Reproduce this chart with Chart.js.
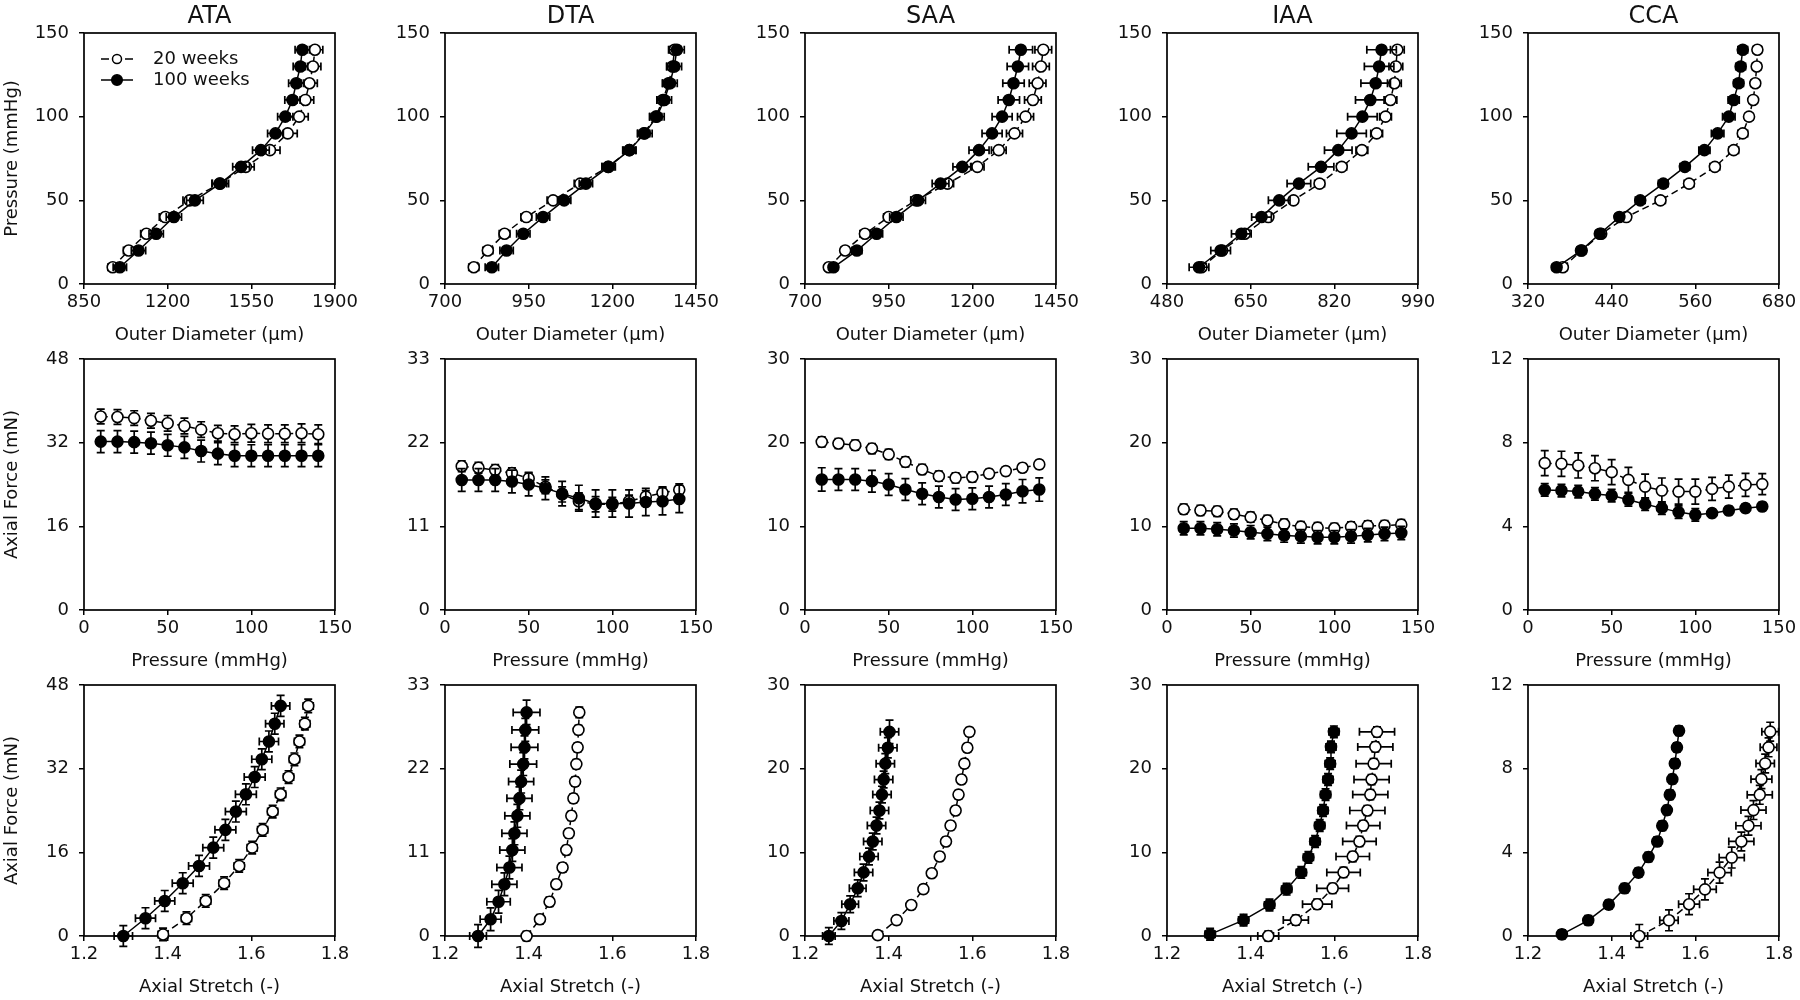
<!DOCTYPE html>
<html>
<head>
<meta charset="utf-8">
<script src="https://cdn.jsdelivr.net/npm/chart.js@4.4.0/dist/chart.umd.min.js"></script>
<style>
html,body{margin:0;padding:0;background:#fff;}
#fig{position:relative;width:1800px;height:1000px;overflow:hidden;background:#fff;}
#fig canvas{position:absolute;}
</style>
</head>
<body>
<div id="fig"></div>
<script>
// ---------------- DATA ----------------
const vessels = ['ATA', 'DTA', 'SAA', 'IAA', 'CCA'];
const groupLabels = ['20 weeks', '100 weeks'];
const pressure = [10,20,30,40,50,60,70,80,90,100,110,120,130,140];

// tick labels
const ataOdTicks = [850,1200,1550,1900];
const dtaOdTicks = [700,950,1200,1450];
const saaOdTicks = [700,950,1200,1450];
const iaaOdTicks = [480,650,820,990];
const ccaOdTicks = [320,440,560,680];
const pressureTicks = [0,50,100,150];
const ataForceTicks = [0,16,32,48];
const dtaForceTicks = [0,11,22,33];
const saaForceTicks = [0,10,20,30];
const iaaForceTicks = [0,10,20,30];
const ccaForceTicks = [0,4,8,12];
const stretchTicks = [1.2,1.4,1.6,1.8];
const stretchTickLabels = ['1.2','1.4','1.6','1.8'];

// Row 1: outer diameter (um) at each pressure
const ataOd20 = [970,1037,1111,1190,1292,1417,1527,1628,1702,1750,1776,1793,1808,1816];
const ataOd20Err = [20,22,24,25,28,30,35,42,40,38,35,33,33,33];
const ataOd100 = [1000,1078,1152,1226,1314,1420,1507,1590,1651,1692,1722,1738,1755,1763];
const ataOd100Err = [28,30,30,32,35,35,35,35,33,32,32,32,30,30];
const dtaOd20 = [786,828,878,943,1023,1104,1187,1251,1294,1330,1351,1368,1380,1386];
const dtaOd20Err = [15,15,16,16,18,18,18,18,18,18,18,18,18,18];
const dtaOd100 = [840,884,934,993,1056,1121,1189,1251,1297,1333,1355,1372,1385,1393];
const dtaOd100Err = [20,20,20,20,20,20,20,20,22,22,22,22,22,22];
const saaOd20 = [771,820,879,950,1032,1126,1215,1279,1326,1359,1381,1395,1405,1412];
const saaOd20Err = [10,12,15,15,15,18,20,22,24,24,25,25,25,25];
const saaOd100 = [785,855,914,973,1038,1105,1170,1220,1259,1289,1309,1323,1336,1345];
const saaOd100Err = [12,15,18,20,22,25,28,30,30,30,32,32,32,35];
const iaaOd20 = [550,592,638,686,737,790,835,876,906,924,934,942,945,948];
const iaaOd20Err = [8,8,8,8,8,10,10,12,12,12,13,14,14,14];
const iaaOd100 = [545,589,631,672,708,748,793,828,855,877,893,904,911,916];
const iaaOd100Err = [20,20,20,20,22,24,26,28,30,30,30,30,30,30];
const ccaOd20 = [370,397,425,461,510,551,588,615,628,637,643,646,648,649];
const ccaOd20Err = [6,6,6,6,7,7,7,7,7,6,6,6,6,6];
const ccaOd100 = [361,396,423,451,481,514,545,573,592,608,615,622,625,628];
const ccaOd100Err = [6,6,6,6,7,7,7,8,9,9,8,7,7,7];

// Row 2: axial force (mN) at each pressure
const ataF20 = [37.0,36.9,36.7,36.2,35.7,35.2,34.5,33.8,33.6,33.8,33.7,33.7,33.8,33.6];
const ataF20Err = [1.4,1.4,1.4,1.4,1.5,1.5,1.5,1.5,1.6,1.7,1.7,1.7,1.8,1.8];
const ataF100 = [32.2,32.2,32.1,31.9,31.5,31.1,30.4,29.9,29.5,29.5,29.5,29.5,29.5,29.5];
const ataF100Err = [2.1,2.1,2.1,2.1,2.1,2.1,2.1,2.1,2.1,2.1,2.1,2.1,2.1,2.1];
const dtaF20 = [18.9,18.7,18.4,18.0,17.3,16.2,15.2,14.3,13.9,13.9,14.3,14.9,15.4,15.8];
const dtaF20Err = [0.7,0.7,0.7,0.7,0.8,0.9,1.0,1.1,1.0,0.9,0.8,0.8,0.8,0.8];
const dtaF100 = [17.1,17.1,17.1,16.9,16.5,16.0,15.3,14.7,14.0,14.0,14.0,14.2,14.3,14.6];
const dtaF100Err = [1.5,1.5,1.5,1.5,1.5,1.5,1.6,1.7,1.8,1.8,1.8,1.8,1.8,1.8];
const saaF20 = [20.1,19.9,19.7,19.3,18.6,17.7,16.8,16.0,15.8,15.9,16.3,16.6,17.0,17.4];
const saaF20Err = [0.6,0.6,0.6,0.6,0.6,0.6,0.6,0.6,0.6,0.6,0.5,0.5,0.5,0.5];
const saaF100 = [15.6,15.6,15.6,15.4,15.0,14.4,13.9,13.5,13.2,13.3,13.5,13.8,14.2,14.4];
const saaF100Err = [1.4,1.3,1.3,1.3,1.3,1.3,1.3,1.3,1.3,1.3,1.3,1.3,1.4,1.4];
const iaaF20 = [12.05,11.9,11.8,11.45,11.1,10.7,10.25,9.97,9.85,9.77,9.93,10.05,10.1,10.2];
const iaaF20Err = [0.6,0.6,0.6,0.6,0.6,0.6,0.6,0.6,0.6,0.6,0.6,0.6,0.6,0.6];
const iaaF100 = [9.77,9.77,9.65,9.5,9.3,9.1,8.9,8.8,8.7,8.7,8.8,8.95,9.1,9.2];
const iaaF100Err = [0.8,0.8,0.8,0.8,0.8,0.8,0.8,0.8,0.8,0.8,0.8,0.8,0.8,0.8];
const ccaF20 = [7.02,6.99,6.91,6.78,6.59,6.22,5.9,5.71,5.66,5.66,5.79,5.9,5.98,6.02];
const ccaF20Err = [0.6,0.6,0.6,0.6,0.6,0.6,0.6,0.6,0.6,0.6,0.55,0.55,0.55,0.5];
const ccaF100 = [5.74,5.71,5.66,5.55,5.47,5.27,5.06,4.87,4.68,4.55,4.63,4.76,4.87,4.95];
const ccaF100Err = [0.3,0.3,0.3,0.3,0.3,0.3,0.3,0.3,0.3,0.3,0.2,0.2,0.2,0.2];

// Row 3: axial stretch (-) vs axial force (mN)
const ataStr20 = [1.389,1.445,1.491,1.535,1.571,1.602,1.627,1.651,1.670,1.689,1.703,1.715,1.728,1.736];
const ataStr20Err = [0.012,0.012,0.012,0.012,0.012,0.012,0.012,0.012,0.012,0.012,0.012,0.012,0.012,0.012];
const ataAx20 = [0.3,3.4,6.7,10.1,13.4,16.9,20.3,23.8,27.1,30.4,33.8,37.2,40.6,44.0];
const ataAx20Err = [1.2,1.2,1.2,1.2,1.2,1.2,1.2,1.2,1.2,1.2,1.2,1.2,1.2,1.3];
const ataStr100 = [1.294,1.347,1.393,1.436,1.475,1.509,1.538,1.563,1.587,1.608,1.625,1.642,1.656,1.670];
const ataStr100Err = [0.022,0.024,0.024,0.025,0.025,0.025,0.025,0.025,0.025,0.025,0.024,0.023,0.022,0.022];
const ataAx100 = [0,3.4,6.7,10.1,13.4,16.9,20.3,23.8,27.1,30.4,33.8,37.2,40.6,44.0];
const ataAx100Err = [2,2,2,2,2,2,2,2,2,2,2,2,2,2];
const dtaStr20 = [1.395,1.427,1.450,1.466,1.481,1.490,1.496,1.502,1.507,1.511,1.514,1.517,1.519,1.521];
const dtaStr20Err = [0.007,0.007,0.007,0.007,0.007,0.007,0.007,0.007,0.007,0.007,0.007,0.007,0.007,0.007];
const dtaAx20 = [0,2.2,4.5,6.8,9.0,11.3,13.5,15.8,18.1,20.3,22.6,24.8,27.1,29.4];
const dtaAx20Err = [0.6,0.6,0.6,0.6,0.6,0.6,0.6,0.6,0.6,0.6,0.6,0.6,0.6,0.7];
const dtaStr100 = [1.279,1.309,1.328,1.342,1.354,1.361,1.366,1.373,1.378,1.382,1.387,1.390,1.392,1.395];
const dtaStr100Err = [0.02,0.025,0.028,0.03,0.03,0.03,0.03,0.03,0.03,0.03,0.032,0.032,0.032,0.032];
const dtaAx100 = [0,2.2,4.5,6.8,9.0,11.3,13.5,15.8,18.1,20.3,22.6,24.8,27.1,29.4];
const dtaAx100Err = [1.5,1.5,1.5,1.5,1.5,1.5,1.5,1.5,1.5,1.5,1.5,1.5,1.5,1.6];
const saaStr20 = [1.374,1.419,1.454,1.483,1.503,1.522,1.537,1.548,1.560,1.567,1.574,1.581,1.588,1.593];
const saaStr20Err = [0.006,0.006,0.006,0.006,0.006,0.006,0.006,0.006,0.006,0.006,0.006,0.006,0.006,0.006];
const saaAx20 = [0.1,1.9,3.7,5.6,7.5,9.5,11.3,13.2,15.0,16.9,18.7,20.6,22.5,24.4];
const saaAx20Err = [0.5,0.5,0.5,0.5,0.5,0.5,0.5,0.5,0.5,0.5,0.5,0.5,0.5,0.5];
const saaStr100 = [1.257,1.287,1.308,1.326,1.340,1.353,1.362,1.371,1.378,1.384,1.388,1.392,1.398,1.402];
const saaStr100Err = [0.015,0.018,0.02,0.02,0.022,0.022,0.022,0.022,0.022,0.022,0.022,0.022,0.022,0.022];
const saaAx100 = [0,1.8,3.8,5.7,7.6,9.5,11.3,13.2,15.0,16.9,18.7,20.6,22.5,24.4];
const saaAx100Err = [1,1,1,1,1,1,1,1,1,1,1,1.2,1.2,1.4];
const iaaStr20 = [1.442,1.508,1.559,1.596,1.622,1.644,1.660,1.669,1.679,1.686,1.689,1.694,1.698,1.702];
const iaaStr20Err = [0.025,0.03,0.035,0.038,0.04,0.04,0.04,0.04,0.042,0.042,0.042,0.042,0.042,0.042];
const iaaAx20 = [0,1.9,3.8,5.7,7.6,9.5,11.3,13.2,15.0,16.9,18.7,20.6,22.6,24.4];
const iaaAx20Err = [0.6,0.6,0.6,0.6,0.6,0.6,0.6,0.6,0.6,0.6,0.6,0.6,0.6,0.6];
const iaaStr100 = [1.303,1.383,1.445,1.486,1.521,1.538,1.554,1.565,1.573,1.579,1.585,1.590,1.592,1.599];
const iaaStr100Err = [0.012,0.012,0.012,0.012,0.012,0.012,0.012,0.012,0.012,0.012,0.012,0.012,0.012,0.012];
const iaaAx100 = [0.2,1.9,3.7,5.6,7.6,9.4,11.3,13.2,15.0,16.9,18.7,20.6,22.6,24.4];
const iaaAx100Err = [0.7,0.7,0.7,0.7,0.7,0.7,0.7,0.7,0.7,0.7,0.7,0.7,0.7,0.7];
const ccaStr20 = [1.466,1.537,1.585,1.623,1.658,1.687,1.710,1.727,1.739,1.754,1.758,1.767,1.775,1.779];
const ccaStr20Err = [0.02,0.022,0.025,0.027,0.028,0.03,0.03,0.03,0.03,0.03,0.025,0.022,0.02,0.02];
const ccaAx20 = [0,0.75,1.52,2.23,3.03,3.75,4.52,5.27,6.02,6.75,7.5,8.25,9.02,9.77];
const ccaAx20Err = [0.55,0.5,0.5,0.5,0.5,0.5,0.45,0.45,0.45,0.45,0.45,0.45,0.45,0.45];
const ccaStr100 = [1.281,1.344,1.393,1.431,1.464,1.488,1.509,1.521,1.532,1.539,1.545,1.551,1.556,1.561];
const ccaStr100Err = [0.008,0.008,0.008,0.008,0.008,0.008,0.008,0.008,0.008,0.008,0.008,0.008,0.008,0.008];
const ccaAx100 = [0.08,0.75,1.5,2.28,3.03,3.78,4.52,5.27,6.02,6.75,7.5,8.25,9.02,9.81];
const ccaAx100Err = [0.22,0.22,0.22,0.22,0.22,0.22,0.22,0.22,0.22,0.22,0.22,0.22,0.22,0.22];

// axis titles
const odTitle = 'Outer Diameter (\u03bcm)';
const pressureTitle = 'Pressure (mmHg)';
const forceTitle = 'Axial Force (mN)';
const stretchTitle = 'Axial Stretch (-)';

// ---------------- LAYOUT ----------------
const colLeft = [84, 445, 805, 1167, 1528];
const rowTop = [33, 359, 685];
const PW = 251, PH = 251, YW = 84, XH = 66, RP = 26, TP = 33;
const FONT = "'DejaVu Sans', 'Liberation Sans', sans-serif";
const INK = '#111';

Chart.defaults.font.family = FONT;
Chart.defaults.font.size = 18;
Chart.defaults.color = INK;

// ---------------- PLUGINS ----------------
const frame = {
  id: 'frame',
  beforeDatasetsDraw(chart) {
    const a = chart.chartArea, ctx = chart.ctx;
    ctx.save();
    ctx.strokeStyle = '#000';
    ctx.lineWidth = 1.7;
    ctx.strokeRect(a.left, a.top, a.right - a.left, a.bottom - a.top);
    ctx.restore();
  }
};

const errorBars = {
  id: 'errorBars',
  beforeDatasetDraw(chart, args) {
    const ds = chart.data.datasets[args.index];
    const xs = chart.scales.x, ys = chart.scales.y, ctx = chart.ctx;
    const cap = 4;
    ctx.save();
    ctx.strokeStyle = '#000';
    ctx.lineWidth = 1.7;
    ctx.setLineDash([]);
    ds.data.forEach((p, i) => {
      const px = xs.getPixelForValue(p.x), py = ys.getPixelForValue(p.y);
      ctx.beginPath();
      if (ds.xErr) {
        const x1 = xs.getPixelForValue(p.x - ds.xErr[i]);
        const x2 = xs.getPixelForValue(p.x + ds.xErr[i]);
        ctx.moveTo(x1, py); ctx.lineTo(x2, py);
        ctx.moveTo(x1, py - cap); ctx.lineTo(x1, py + cap);
        ctx.moveTo(x2, py - cap); ctx.lineTo(x2, py + cap);
      }
      if (ds.yErr) {
        const y1 = ys.getPixelForValue(p.y - ds.yErr[i]);
        const y2 = ys.getPixelForValue(p.y + ds.yErr[i]);
        ctx.moveTo(px, y1); ctx.lineTo(px, y2);
        ctx.moveTo(px - cap, y1); ctx.lineTo(px + cap, y1);
        ctx.moveTo(px - cap, y2); ctx.lineTo(px + cap, y2);
      }
      ctx.stroke();
    });
    ctx.restore();
  }
};

const insideLegend = {
  id: 'insideLegend',
  afterDatasetsDraw(chart) {
    const a = chart.chartArea, ctx = chart.ctx;
    const rows = [
      {label: groupLabels[0], filled: false, y: a.top + 26},
      {label: groupLabels[1], filled: true, y: a.top + 47}
    ];
    ctx.save();
    rows.forEach(r => {
      const x0 = a.left + 17, x1 = a.left + 49, xm = (x0 + x1) / 2;
      ctx.strokeStyle = '#000';
      ctx.lineWidth = 1.5;
      ctx.setLineDash([]);
      ctx.beginPath();
      if (r.filled) { ctx.moveTo(x0, r.y); ctx.lineTo(x1, r.y); }
      else { ctx.moveTo(x0, r.y); ctx.lineTo(x0 + 8, r.y); ctx.moveTo(x1 - 8, r.y); ctx.lineTo(x1, r.y); }
      ctx.stroke();
      ctx.beginPath();
      ctx.arc(xm, r.y, r.filled ? 5.3 : 4.5, 0, Math.PI * 2);
      ctx.fillStyle = r.filled ? '#000' : '#fff';
      ctx.fill();
      ctx.stroke();
      ctx.fillStyle = INK;
      ctx.font = '18px ' + FONT;
      ctx.textAlign = 'left';
      ctx.textBaseline = 'middle';
      ctx.fillText(r.label, a.left + 69, r.y);
    });
    ctx.restore();
  }
};

// ---------------- BUILD ----------------
function series(label, xs, ys, xe, ye, filled) {
  return {
    label,
    data: xs.map((x, i) => ({x: x, y: ys[i]})),
    xErr: xe, yErr: ye,
    showLine: true, tension: 0, clip: false,
    borderColor: '#000', borderWidth: 1.5,
    borderDash: filled ? [] : [7, 4],
    pointRadius: 5.5, pointHoverRadius: 5.5,
    pointBorderWidth: 1.6, pointBorderColor: '#000',
    pointBackgroundColor: filled ? '#000' : '#fff',
    backgroundColor: filled ? '#000' : '#fff'
  };
}

function axis(ticks, labels, titleText, isX) {
  const cfg = {
    type: 'linear',
    min: ticks[0], max: ticks[ticks.length - 1],
    afterBuildTicks: s => { s.ticks = ticks.map(v => ({value: v})); },
    grid: {display: true, drawOnChartArea: false, drawTicks: true, tickLength: 5, color: '#000', lineWidth: 1.5},
    border: {display: false},
    ticks: {
      padding: isX ? 3 : 10,
      color: INK,
      font: {size: 18, family: FONT},
      maxRotation: 0, autoSkip: false,
      callback: (v, i) => labels ? labels[i] : String(ticks[i])
    },
    title: {display: !!titleText, text: titleText || '', color: INK, font: {size: 18, family: FONT},
            padding: isX ? {top: 0, bottom: 4.2} : {top: 2, bottom: 0}}
  };
  if (isX) cfg.afterFit = s => { s.height = XH; };
  else cfg.afterFit = s => { s.width = YW; };
  return cfg;
}

const panelRows = [
  // row 0: outer diameter vs pressure
  [
    {xt: ataOdTicks, yt: pressureTicks, d20: [ataOd20, pressure, ataOd20Err, null], d100: [ataOd100, pressure, ataOd100Err, null]},
    {xt: dtaOdTicks, yt: pressureTicks, d20: [dtaOd20, pressure, dtaOd20Err, null], d100: [dtaOd100, pressure, dtaOd100Err, null]},
    {xt: saaOdTicks, yt: pressureTicks, d20: [saaOd20, pressure, saaOd20Err, null], d100: [saaOd100, pressure, saaOd100Err, null]},
    {xt: iaaOdTicks, yt: pressureTicks, d20: [iaaOd20, pressure, iaaOd20Err, null], d100: [iaaOd100, pressure, iaaOd100Err, null]},
    {xt: ccaOdTicks, yt: pressureTicks, d20: [ccaOd20, pressure, ccaOd20Err, null], d100: [ccaOd100, pressure, ccaOd100Err, null]}
  ],
  // row 1: pressure vs axial force
  [
    {xt: pressureTicks, yt: ataForceTicks, d20: [pressure, ataF20, null, ataF20Err], d100: [pressure, ataF100, null, ataF100Err]},
    {xt: pressureTicks, yt: dtaForceTicks, d20: [pressure, dtaF20, null, dtaF20Err], d100: [pressure, dtaF100, null, dtaF100Err]},
    {xt: pressureTicks, yt: saaForceTicks, d20: [pressure, saaF20, null, saaF20Err], d100: [pressure, saaF100, null, saaF100Err]},
    {xt: pressureTicks, yt: iaaForceTicks, d20: [pressure, iaaF20, null, iaaF20Err], d100: [pressure, iaaF100, null, iaaF100Err]},
    {xt: pressureTicks, yt: ccaForceTicks, d20: [pressure, ccaF20, null, ccaF20Err], d100: [pressure, ccaF100, null, ccaF100Err]}
  ],
  // row 2: axial stretch vs axial force
  [
    {xt: stretchTicks, xl: stretchTickLabels, yt: ataForceTicks, d20: [ataStr20, ataAx20, ataStr20Err, ataAx20Err], d100: [ataStr100, ataAx100, ataStr100Err, ataAx100Err]},
    {xt: stretchTicks, xl: stretchTickLabels, yt: dtaForceTicks, d20: [dtaStr20, dtaAx20, dtaStr20Err, dtaAx20Err], d100: [dtaStr100, dtaAx100, dtaStr100Err, dtaAx100Err]},
    {xt: stretchTicks, xl: stretchTickLabels, yt: saaForceTicks, d20: [saaStr20, saaAx20, saaStr20Err, saaAx20Err], d100: [saaStr100, saaAx100, saaStr100Err, saaAx100Err]},
    {xt: stretchTicks, xl: stretchTickLabels, yt: iaaForceTicks, d20: [iaaStr20, iaaAx20, iaaStr20Err, iaaAx20Err], d100: [iaaStr100, iaaAx100, iaaStr100Err, iaaAx100Err]},
    {xt: stretchTicks, xl: stretchTickLabels, yt: ccaForceTicks, d20: [ccaStr20, ccaAx20, ccaStr20Err, ccaAx20Err], d100: [ccaStr100, ccaAx100, ccaStr100Err, ccaAx100Err]}
  ]
];
const xTitles = [odTitle, pressureTitle, stretchTitle];
const yTitles = [pressureTitle, forceTitle, forceTitle];

const fig = document.getElementById('fig');
panelRows.forEach((row, r) => {
  row.forEach((p, c) => {
    const cv = document.createElement('canvas');
    const w = YW + PW + RP, h = TP + PH + XH;
    cv.width = w; cv.height = h;
    cv.style.width = w + 'px'; cv.style.height = h + 'px';
    cv.style.left = (colLeft[c] - YW) + 'px';
    cv.style.top = (rowTop[r] - TP) + 'px';
    fig.appendChild(cv);
    const plugins = [frame, errorBars];
    if (r === 0 && c === 0) plugins.push(insideLegend);
    new Chart(cv, {
      type: 'scatter',
      data: {
        datasets: [
          series(groupLabels[1], p.d100[0], p.d100[1], p.d100[2], p.d100[3], true),
          series(groupLabels[0], p.d20[0], p.d20[1], p.d20[2], p.d20[3], false)
        ]
      },
      options: {
        responsive: false, animation: false, devicePixelRatio: 1,
        layout: {padding: {left: 0, right: RP, top: r === 0 ? 0 : TP, bottom: 0}},
        scales: {
          x: axis(p.xt, p.xl, xTitles[r], true),
          y: axis(p.yt, null, c === 0 ? yTitles[r] : '', false)
        },
        plugins: {
          legend: {display: false},
          tooltip: {enabled: false},
          title: {display: r === 0, text: vessels[c], fullSize: false, color: INK,
                  font: {size: 24, family: FONT, weight: 'normal'}, padding: {top: 2, bottom: 2.2}}
        }
      },
      plugins: plugins
    });
  });
});
</script>
</body>
</html>
